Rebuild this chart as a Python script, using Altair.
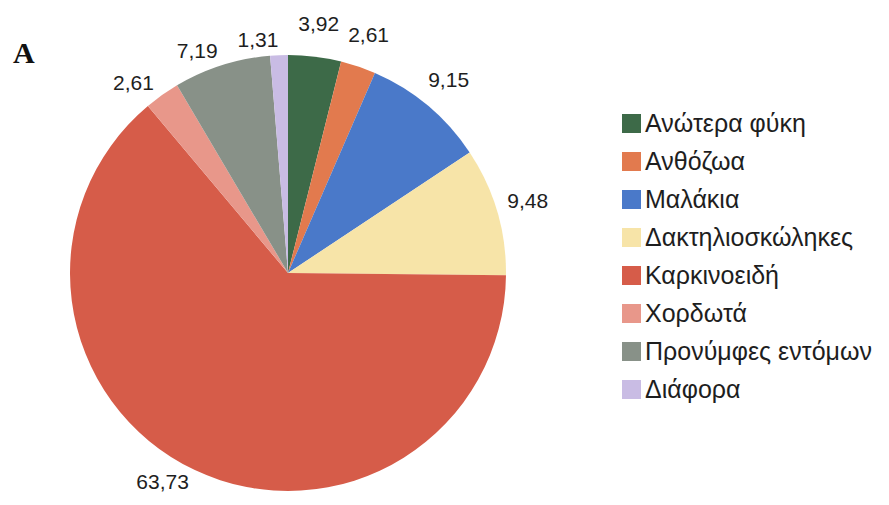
import math
import altair as alt
import pandas as pd

categories = ["Ανώτερα φύκη", "Ανθόζωα", "Μαλάκια", "Δακτηλιοσκώληκες",
              "Καρκινοειδή", "Χορδωτά", "Προνύμφες εντόμων", "Διάφορα"]
values = [3.92, 2.61, 9.15, 9.48, 63.73, 2.61, 7.19, 1.31]
labels = ["3,92", "2,61", "9,15", "9,48", "63,73", "2,61", "7,19", "1,31"]
colors = ["#3d6a48", "#e27a4e", "#4a79c9", "#f7e4a8", "#d65c49", "#e8978a", "#889188", "#c9bce4"]

df = pd.DataFrame({"category": categories, "value": values, "label": labels,
                   "idx": list(range(len(categories)))})
df["mid"] = df["value"].cumsum() - df["value"] / 2

theta_scale = alt.Scale(domain=[0, 100], range=[0, 2 * math.pi])
CX, CY = 280, 265

base = alt.Chart(df)

pie = base.mark_arc(outerRadius=218).encode(
    theta=alt.Theta("value:Q", stack=True, scale=theta_scale),
    color=alt.Color(
        "category:N",
        sort=categories,
        scale=alt.Scale(domain=categories, range=colors),
        legend=alt.Legend(
            orient="none", legendX=611, legendY=103, title=None,
            symbolType="square", symbolSize=361, symbolStrokeWidth=0,
            labelFontSize=25, labelFont="Liberation Sans", labelColor="#1e1e1e",
            rowPadding=12, labelOffset=1, labelLimit=400, padding=0,
        ),
    ),
    order=alt.Order("idx:Q"),
    x=alt.value(CX), y=alt.value(CY),
)

right_labels = base.transform_filter("datum.mid < 50").mark_text(
    radius=250, fontSize=21, font="Liberation Sans", color="#1e1e1e",
    align="center", baseline="middle",
).encode(
    theta=alt.Theta("mid:Q", stack=None, scale=theta_scale),
    text="label:N",
    x=alt.value(CX), y=alt.value(CY),
)

left_labels = base.transform_filter("datum.mid >= 50").mark_text(
    radius=232, fontSize=21, font="Liberation Sans", color="#1e1e1e",
    align="right", baseline="middle",
).encode(
    theta=alt.Theta("mid:Q", stack=None, scale=theta_scale),
    text="label:N",
    x=alt.value(CX), y=alt.value(CY),
)

letter = alt.Chart(pd.DataFrame({"t": ["A"]})).mark_text(
    font="Liberation Serif", fontSize=30, fontWeight="bold", color="#111111",
    align="left", baseline="alphabetic",
).encode(text="t:N", x=alt.value(5), y=alt.value(55))

chart = alt.layer(pie, right_labels, left_labels, letter).properties(
    width=873, height=488,
    autosize=alt.AutoSizeParams(type="none"),
    padding=0,
).configure_view(stroke=None)

chart.save("out.html", embed_options={"renderer": "svg", "actions": False})
